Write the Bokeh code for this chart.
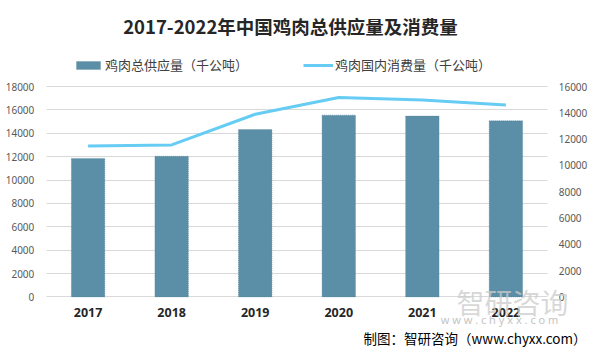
from bokeh.plotting import figure
from bokeh.models import (Range1d, LinearAxis, CategoricalAxis, Legend, LegendItem,
                          Label, FixedTicker, ColumnDataSource, FactorRange, Grid)
from bokeh.embed import file_html
from bokeh.resources import INLINE

years = ["2017", "2018", "2019", "2020", "2021", "2022"]
supply = [11850, 12030, 14320, 15550, 15470, 15060]
consumption = [11470, 11560, 13890, 15170, 14980, 14600]
left_ticks = [0, 2000, 4000, 6000, 8000, 10000, 12000, 14000, 16000, 18000]
right_ticks = [0, 2000, 4000, 6000, 8000, 10000, 12000, 14000, 16000]

title_text = "2017-2022年中国鸡肉总供应量及消费量"
supply_name = "鸡肉总供应量（千公吨）"
consumption_name = "鸡肉国内消费量（千公吨）"
source_text = "制图：智研咨询（www.chyxx.com）"
watermark_text = "智研咨询"
watermark_url = "w w w . c h y x x . c o m"

src = ColumnDataSource(dict(year=years, supply=supply, consumption=consumption))

W, H = 589, 348
FL = 4                      # frame starts 4px from the canvas's left edge
FW = W - FL                 # frame width
# plot area inside the canvas (pixels)
PL, PR, PT, PB = 45.8, 547.2, 86, 296.4
n = len(years)
px_per_cat = (PR - PL) / n
pad = (PL - FL) / px_per_cat
lmax, rmax = left_ticks[-1], right_ticks[-1]
l_per_px = lmax / (PB - PT)
r_per_px = rmax / (PB - PT)

x_range = FactorRange(factors=years, range_padding=pad, range_padding_units="absolute")
y_range = Range1d(-(H - PB) * l_per_px, lmax + PT * l_per_px)

p = figure(width=W, height=H, x_range=x_range, y_range=y_range,
           output_backend="svg", toolbar_location=None,
           x_axis_location=None, y_axis_location=None,
           min_border=0, min_border_left=FL)
p.title.visible = False
p.outline_line_color = None
p.background_fill_color = "white"
p.border_fill_color = "white"
p.xgrid.visible = False
p.ygrid.visible = False

p.extra_y_ranges = {"right": Range1d(-(H - PB) * r_per_px, rmax + PT * r_per_px)}

lt = FixedTicker(ticks=left_ticks)
rt = FixedTicker(ticks=right_ticks)

grid = Grid(dimension=1, ticker=lt, grid_line_color="#d9d9d9", grid_line_width=1)
try:
    grid.cross_bounds = (0, n)
except Exception:
    pass
p.add_layout(grid)

bars = p.vbar(x="year", top="supply", width=0.4, source=src,
              fill_color="#5b8fa7", line_color="#557f96", line_width=0.8,
              line_alpha=0.7, line_dash="1 1")
line = p.line(x="year", y="consumption", source=src, y_range_name="right",
              line_color="#66ccf4", line_width=3)

la = LinearAxis(ticker=lt, fixed_location=0)
ra = LinearAxis(y_range_name="right", ticker=rt, fixed_location=n)
p.add_layout(la, "left")
p.add_layout(ra, "right")
for ax in [la, ra]:
    ax.axis_line_color = None
    ax.major_tick_line_color = None
    ax.minor_tick_line_color = None
    ax.major_tick_out = 0
    ax.major_tick_in = 0
    ax.minor_tick_out = 0
    ax.minor_tick_in = 0
    ax.major_label_text_color = "#595959"
    ax.major_label_text_font = "Noto Sans"
    ax.major_label_text_font_size = "10px"
la.major_label_standoff = 12
ra.major_label_standoff = 11

xa = CategoricalAxis(fixed_location=0)
p.add_layout(xa, "below")
xa.axis_line_color = None
xa.major_tick_line_color = None
xa.minor_tick_line_color = None
xa.major_tick_out = 0
xa.major_tick_in = 0
xa.major_label_text_color = "#262626"
xa.major_label_text_font = "Noto Sans"
xa.major_label_text_font_style = "bold"
xa.major_label_text_font_size = "12.5px"
xa.major_label_standoff = 11


def sx(x):
    return x - FL


def sy(y):
    return H - y


legend = Legend(items=[LegendItem(label=supply_name, renderers=[bars]),
                       LegendItem(label=consumption_name, renderers=[line])],
                orientation="horizontal", location=(sx(73), sy(64) - 10),
                glyph_width=30, glyph_height=10, label_standoff=2,
                spacing=55, padding=0, margin=0,
                label_text_font="Noto Sans CJK SC", label_text_font_size="13px",
                label_text_color="#404040",
                background_fill_alpha=0, border_line_color=None)
p.add_layout(legend)

p.add_layout(Label(x=sx(290), y=sy(25), x_units="screen", y_units="screen",
                   text=title_text, text_align="center", text_baseline="middle",
                   text_font="Noto Sans CJK SC", text_font_style="bold",
                   text_font_size="18.5px", text_color="#262626"))

p.add_layout(Label(x=sx(456), y=sy(301), x_units="screen", y_units="screen",
                   text=watermark_text, text_align="left", text_baseline="middle",
                   text_font="Noto Sans CJK SC", text_font_size="28px",
                   text_color="#cccccc", text_alpha=0.75))
p.add_layout(Label(x=sx(499), y=sy(319), x_units="screen", y_units="screen",
                   text=watermark_url, text_align="center", text_baseline="middle",
                   text_font="Noto Sans", text_font_size="11px",
                   text_color="#c4c4c4"))

p.add_layout(Label(x=sx(586), y=sy(337), x_units="screen", y_units="screen",
                   text=source_text, text_align="right", text_baseline="middle",
                   text_font="Noto Sans CJK SC", text_font_size="13.5px",
                   text_color="#000000"))

open("out.html", "w").write(file_html(p, INLINE))
